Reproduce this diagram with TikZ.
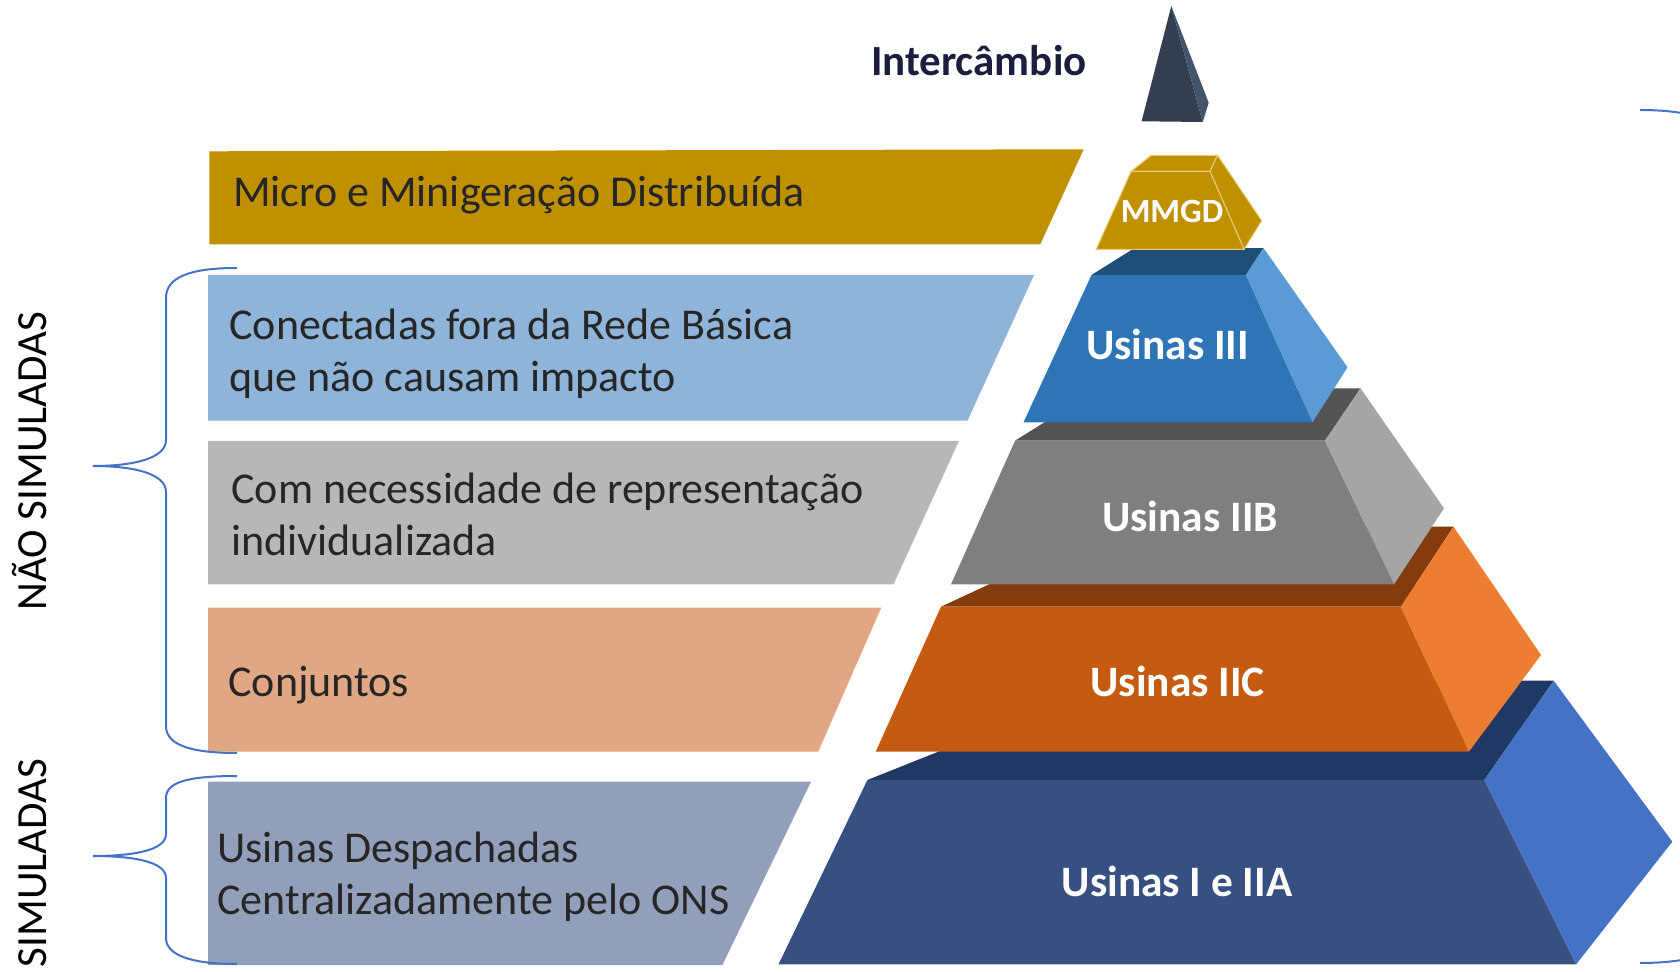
\documentclass[tikz,border=0pt]{standalone}
\usepackage{fontspec}
\setmainfont{Carlito}
\usetikzlibrary{calc}

\definecolor{spikefront}{RGB}{51,63,80}
\definecolor{spikeside}{RGB}{68,84,106}
\definecolor{mmgdgold}{RGB}{191,144,0}
\definecolor{mmgdedge}{RGB}{232,204,120}
\definecolor{ustop}{RGB}{31,78,121}
\definecolor{usfront}{RGB}{46,117,182}
\definecolor{usside}{RGB}{91,155,213}
\definecolor{ubtop}{RGB}{84,84,84}
\definecolor{ubfront}{RGB}{127,127,127}
\definecolor{ubside}{RGB}{165,165,165}
\definecolor{uctop}{RGB}{132,60,12}
\definecolor{ucfront}{RGB}{197,90,17}
\definecolor{ucside}{RGB}{237,125,49}
\definecolor{uatop}{RGB}{32,56,100}
\definecolor{uafront}{RGB}{56,79,130}
\definecolor{uaside}{RGB}{68,114,196}
\definecolor{bannerIII}{RGB}{143,180,217}
\definecolor{bannerIIB}{RGB}{183,183,183}
\definecolor{bannerIIC}{RGB}{224,167,130}
\definecolor{bannerIIA}{RGB}{146,159,187}
\definecolor{bannerink}{RGB}{38,38,38}
\definecolor{topink}{RGB}{28,30,64}
\definecolor{bracketblue}{RGB}{68,114,196}

\def\face[#1](#2)(#3)(#4)(#5){\fill[#1] (#2) -- (#3) -- (#4) -- (#5) -- cycle;}

\tikzset{
	bannertext/.style={anchor=base west, align=left, text=bannerink, inner sep=0pt, font=\fontsize{22}{26}\selectfont},
	layertext/.style={anchor=base, text=white, inner sep=0pt, font=\fontsize{21.7}{26}\selectfont\bfseries},
	sidelabel/.style={rotate=90, anchor=base, text=black, inner sep=0pt, font=\fontsize{21.5}{24}\selectfont},
	bracket/.style={draw=bracketblue, line width=1pt},
}

\begin{document}
\begin{tikzpicture}[x=0.5pt, y=-0.5pt]
			%%%%% START %%%%%
			\useasboundingbox (0,0) rectangle (1680,972);
			
			% banners
			\fill[mmgdgold] (209.3,151.3) -- (1083.7,149.3) -- (1040.3,244.3) -- (209.3,244.3) -- cycle;
			\fill[bannerIII] (208,275) -- (1034,275) -- (967.5,420.7) -- (208,420.7) -- cycle;
			\fill[bannerIIB] (208,441) -- (959,441) -- (893.5,584.3) -- (208,584.3) -- cycle;
			\fill[bannerIIC] (208,607.5) -- (881.3,607.5) -- (818.2,751.7) -- (208,751.7) -- cycle;
			\fill[bannerIIA] (208,781.7) -- (811,781.7) -- (722.4,965) -- (208,965) -- cycle;
			
			% base anchor = last line
			\node[bannertext] (txtmmgd) at (232.8,207) {Micro e Minigeração Distribuída};
			\node[bannertext] (txtIII) at (229,392) {Conectadas fora da Rede Básica\\que não causam impacto};
			\node[bannertext] (txtIIB) at (231,555) {Com necessidade de representação\\individualizada};
			\node[bannertext] (txtIIC) at (228,696.5) {Conjuntos};
			\node[bannertext] (txtIIA) at (217,914) {Usinas Despachadas\\Centralizadamente pelo ONS};
			
			% Usinas I e IIA
			\face[uatop](1116,680.7)(1553.7,680.7)(1484.3,780)(867.4,780)
			\face[uafront](867.4,780)(1484.3,780)(1576.2,964.3)(778.5,964.3)
			\face[uaside](1484.3,780)(1553.7,680.7)(1672.3,841.7)(1576.2,964.3)
			
			% Usinas IIC
			\face[uctop](1113,526.7)(1453.5,526.7)(1401,606.7)(941,606.7)
			\face[ucfront](941,606.7)(1401,606.7)(1468.8,751.7)(875.7,751.7)
			\face[ucside](1401,606.7)(1453.5,526.7)(1541,655)(1468.8,751.7)
			
			% Usinas IIB
			\face[ubtop](1099,388.3)(1360.5,388.3)(1325,440.7)(1015,440.7)
			\face[ubfront](1015,440.7)(1325,440.7)(1394,584.3)(951,584.3)
			\face[ubside](1325,440.7)(1360.5,388.3)(1444,508.3)(1394,584.3)
			
			% Usinas III
			\face[ustop](1132.5,249.3)(1263.5,248)(1246,275)(1091.5,275)
			\face[usfront](1091.5,275)(1246,275)(1312.5,422.3)(1023.5,422.3)
			\face[usside](1246,275)(1263.5,248)(1347.5,367.3)(1312.5,422.3)
			
			% MMGD
			\draw[fill=mmgdgold, draw=mmgdedge, line width=0.5pt] (1151.2,155.3) -- (1217.5,155.3) -- (1209.9,171.3) -- (1131.2,171.3) -- cycle;
			\draw[fill=mmgdgold, draw=mmgdedge, line width=0.5pt] (1209.9,171.3) -- (1217.5,155.3) -- (1261.7,220.7) -- (1244,249.3) -- cycle;
			\draw[fill=mmgdgold, draw=mmgdedge, line width=0.5pt] (1131.2,171.3) -- (1209.9,171.3) -- (1244,249.3) -- (1096.2,249.3) -- cycle;
			
			% spike
			\fill[spikefront] (1171.3,6) -- (1141.6,121.3) -- (1202.7,122) -- cycle;
			\fill[spikeside] (1171.3,6) -- (1208.7,102.7) -- (1202.7,122) -- cycle;
			
			\node[layertext] (lyrIIA) at (1177,896.7) {Usinas I e IIA};
			\node[layertext] (lyrIIC) at (1177.5,696.7) {Usinas IIC};
			\node[layertext] (lyrIIB) at (1190,531.7) {Usinas IIB};
			\node[layertext] (lyrIII) at (1167.5,359.3) {Usinas III};
			\node[layertext, font=\fontsize{17}{20}\selectfont\bfseries] (lyrmmgd) at (1172,222.7) {MMGD};
			\node[anchor=base west, inner sep=0pt, text=topink, font=\fontsize{21.5}{26}\selectfont\bfseries] (intercambio) at (870.7,76) {Intercâmbio};
			
			% brackets
			\draw[bracket] (237,268) .. controls (188,268) and (166,278) .. (166,298) -- (166,440) .. controls (166,458) and (135,466) .. (93,466) .. controls (135,466) and (166,474) .. (166,492) -- (166,726) .. controls (166,744) and (188,753) .. (237,753);
			\draw[bracket] (237,776) .. controls (188,776) and (166,782) .. (166,798) -- (166,834) .. controls (166,850) and (135,856) .. (93,856) .. controls (135,856) and (166,862) .. (166,878) -- (166,938) .. controls (166,954) and (188,964) .. (237,964);
			\draw[bracket] (1640,110) .. controls (1700,110) and (1740,125) .. (1740,160) -- (1740,913) .. controls (1740,948) and (1700,963) .. (1640,963);
			
			\node[sidelabel] (naosim) at (46.7,461) {NÃO SIMULADAS};
			\node[sidelabel] (sim) at (46.7,863) {SIMULADAS};
			
			%%%%% END %%%%%
\end{tikzpicture}
\end{document}
